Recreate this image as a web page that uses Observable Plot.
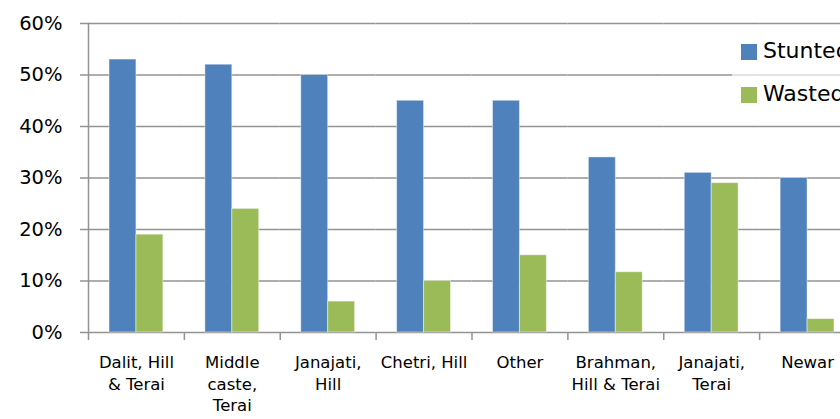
<!DOCTYPE html>
<html><head><meta charset="utf-8">
<script src="https://cdn.jsdelivr.net/npm/d3@7"></script>
<script src="https://cdn.jsdelivr.net/npm/@observablehq/plot@0.6"></script>
<style>
body{margin:0;background:#fff;}
#chart{position:relative;width:840px;height:419px;overflow:hidden;font-family:"DejaVu Sans",sans-serif;}
#legend{position:absolute;left:732px;top:30px;width:120px;height:86px;background:rgba(255,255,255,0.65);}
.sw{position:absolute;left:9px;width:16px;height:16px;}
.lt{position:absolute;left:31px;font-size:22px;line-height:22px;color:#000;white-space:nowrap;}
</style>
</head><body>
<div id="chart"></div>
<script>
const categories = ["Dalit, Hill\n& Terai", "Middle\ncaste,\nTerai", "Janajati,\nHill", "Chetri, Hill", "Other", "Brahman,\nHill & Terai", "Janajati,\nTerai", "Newar"];
const stunted = [0.53, 0.52, 0.50, 0.45, 0.45, 0.34, 0.31, 0.30];
const wasted = [0.19, 0.24, 0.06, 0.10, 0.15, 0.117, 0.29, 0.026];
const seriesNames = ["Stunted", "Wasted"];
const seriesColors = ["#4F81BD", "#9BBB59"];
const yTicks = [0, 0.1, 0.2, 0.3, 0.4, 0.5, 0.6];

const rows = categories.flatMap((c, i) => [
  {category: c, series: seriesNames[0], value: stunted[i]},
  {category: c, series: seriesNames[1], value: wasted[i]}
]);
const grid = "#939393";

const chart = Plot.plot({
  width: 840, height: 419,
  marginLeft: 88, marginRight: -15, marginTop: 23, marginBottom: 87,
  style: {fontFamily: "'DejaVu Sans', sans-serif", background: "#fff", color: "#000"},
  fx: {domain: categories, padding: 0, round: false, label: null},
  x: {domain: seriesNames, paddingInner: 0, paddingOuter: 0.78, round: false, axis: null},
  y: {domain: [0, 0.6], label: null},
  color: {domain: seriesNames, range: seriesColors},
  marks: [
    Plot.gridY(yTicks, {stroke: grid, strokeOpacity: 1, strokeWidth: 1.5}),
    Plot.frame({anchor: "left", facetAnchor: "left", stroke: grid, strokeWidth: 1.5}),
    Plot.axisY(yTicks, {label: null, tickFormat: d3.format(".0%"), tickSize: 8, tickPadding: 18, fontSize: 19.5, stroke: grid, strokeWidth: 1.5}),
    Plot.axisFx({anchor: "bottom", label: null, tickSize: 8, tickFormat: null, dx: -47.94, stroke: grid, strokeWidth: 1.5}),
    Plot.axisFx({anchor: "bottom", label: null, tickSize: 0, tickPadding: 19.5, fontSize: 16.5, lineHeight: 1.33}),
    Plot.barY(rows, {fx: "category", x: "series", y: "value", fill: "series", stroke: "#fff", strokeOpacity: 0.45, strokeWidth: 1})
  ]
});
const host = document.getElementById("chart");
host.appendChild(chart);
const legend = document.createElement("div");
legend.id = "legend";
seriesNames.forEach((s, i) => {
  const sw = document.createElement("div");
  sw.className = "sw"; sw.style.top = (14 + 43 * i) + "px"; sw.style.background = seriesColors[i];
  const t = document.createElement("div");
  t.className = "lt"; t.style.top = (10 + 43 * i) + "px"; t.textContent = s;
  legend.appendChild(sw); legend.appendChild(t);
});
host.appendChild(legend);
</script>
</body></html>
